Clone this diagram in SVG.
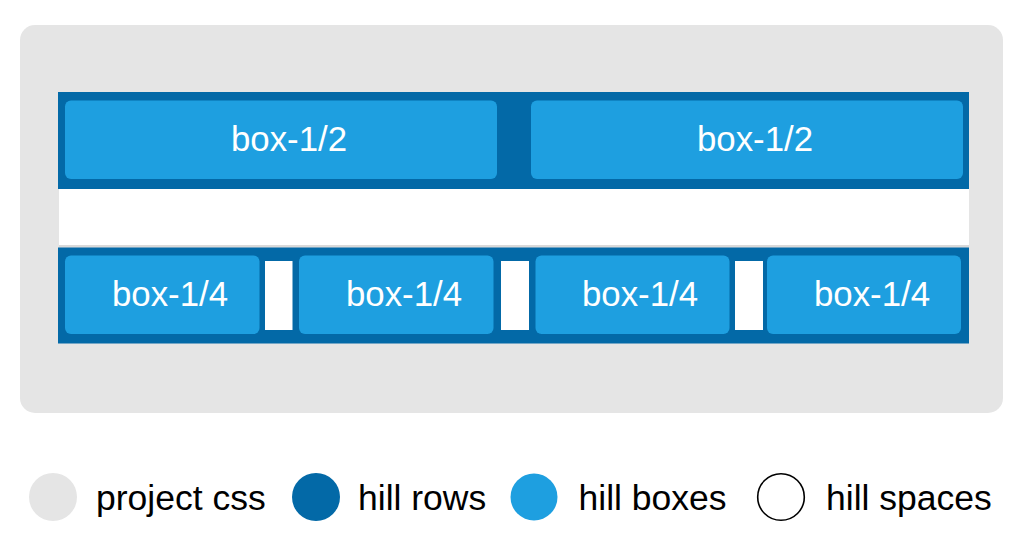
<svg xmlns="http://www.w3.org/2000/svg" width="1032" height="543" viewBox="0 0 1032 543">
<style>
.row{fill:#0369a7}
.box{fill:#1e9fe0}
.space{fill:#ffffff}
.bt{font-family:"Liberation Sans",Arial,sans-serif;font-size:34.8px;fill:#ffffff;text-anchor:middle}
.lt{font-family:"Liberation Sans",Arial,sans-serif;font-size:35.5px;fill:#000000}
</style>
<rect x="0" y="0" width="1032" height="543" fill="#ffffff"/>
<g id="project">
<rect x="20" y="25" width="983" height="388" rx="15" fill="#e5e5e5"/>
</g>
<g id="row1">
<rect class="row" x="58" y="92" width="911" height="97"/>
</g>
<g id="space-row">
<rect x="59" y="189" width="910" height="56" fill="#ffffff"/>
<rect x="59" y="245" width="910" height="2.5" fill="#d9d9d9"/>
</g>
<g id="row2">
<rect class="row" x="58" y="247.5" width="911" height="96"/>
</g>
<g id="box-half-1">
<rect class="box" x="65" y="100.5" width="432" height="78.5" rx="6"/>
<text class="bt" x="289" y="150.5">box-1/2</text>
</g>
<g id="box-half-2">
<rect class="box" x="531" y="100.5" width="432" height="78.5" rx="6"/>
<text class="bt" x="755" y="150.5">box-1/2</text>
</g>
<g id="box-quarter-1">
<rect class="box" x="65" y="255.5" width="194.5" height="78.5" rx="6"/>
<text class="bt" x="170" y="305.5">box-1/4</text>
</g>
<g id="space-1"><rect class="space" x="265" y="261" width="27.5" height="69"/></g>
<g id="box-quarter-2">
<rect class="box" x="299" y="255.5" width="194.5" height="78.5" rx="6"/>
<text class="bt" x="404" y="305.5">box-1/4</text>
</g>
<g id="space-2"><rect class="space" x="501" y="261" width="28" height="69"/></g>
<g id="box-quarter-3">
<rect class="box" x="535.5" y="255.5" width="194" height="78.5" rx="6"/>
<text class="bt" x="640" y="305.5">box-1/4</text>
</g>
<g id="space-3"><rect class="space" x="735" y="261" width="28" height="69"/></g>
<g id="box-quarter-4">
<rect class="box" x="767" y="255.5" width="194" height="78.5" rx="6"/>
<text class="bt" x="872" y="305.5">box-1/4</text>
</g>
<g id="connectors"></g>
<g id="legend">
<circle cx="53" cy="497" r="24" fill="#e5e5e5"/>
<text class="lt" x="96" y="509.5">project css</text>
<circle cx="316" cy="497" r="24" fill="#0369a7"/>
<text class="lt" x="358" y="509.5">hill rows</text>
<circle cx="534" cy="497" r="23.5" fill="#1e9fe0"/>
<text class="lt" x="578.5" y="509.5">hill boxes</text>
<circle cx="781" cy="497" r="23.3" fill="#ffffff" stroke="#000000" stroke-width="1.6"/>
<text class="lt" x="826" y="509.5">hill spaces</text>
</g>
</svg>
